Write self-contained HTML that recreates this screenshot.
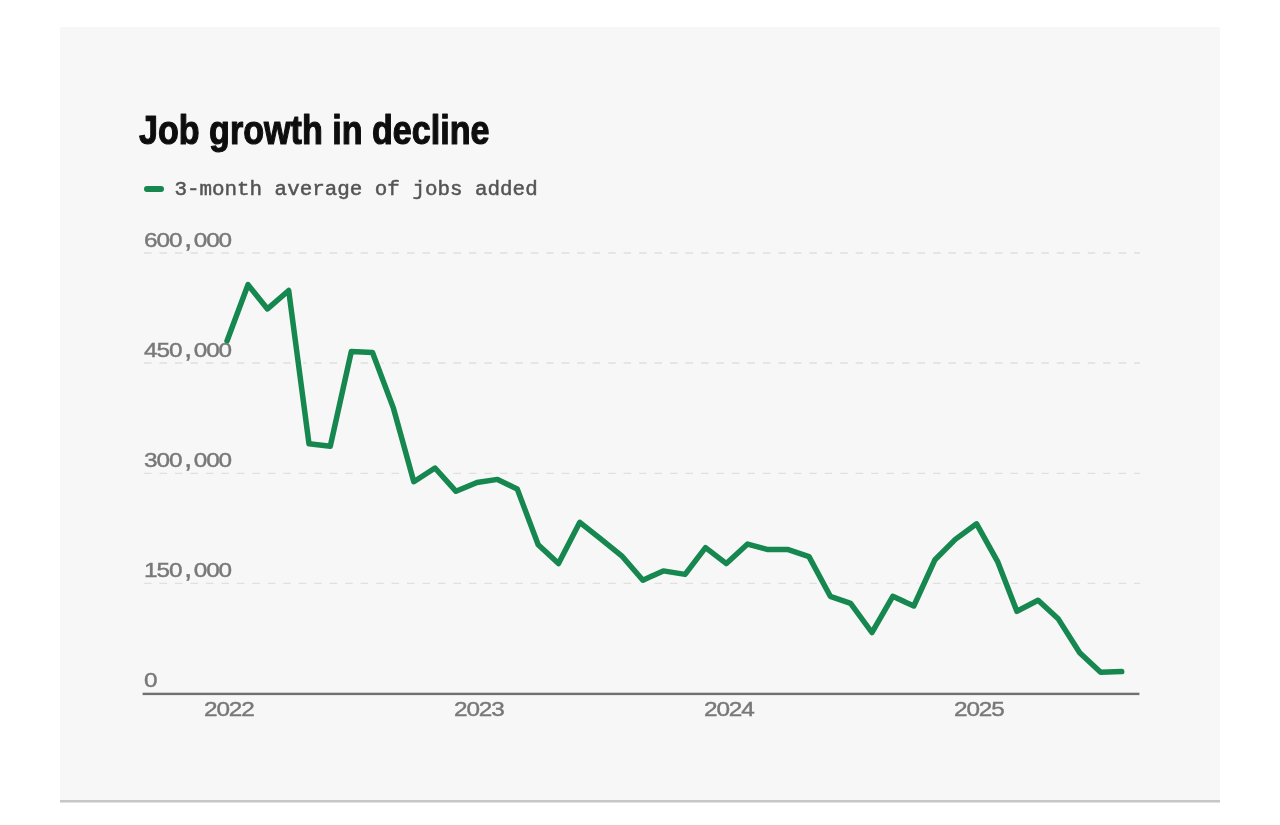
<!DOCTYPE html>
<html>
<head>
<meta charset="utf-8">
<title>Job growth in decline</title>
<style>
html, body { margin: 0; padding: 0; background: #ffffff; }
body { width: 1280px; height: 825px; overflow: hidden; font-family: "Liberation Sans", sans-serif; }
svg { display: block; }
svg text { font-family: "Liberation Sans", sans-serif; }
svg text.mono { font-family: "Liberation Mono", monospace; }
</style>
</head>
<body>
<svg width="1280" height="825" viewBox="0 0 1280 825">
<defs><filter id="soft" x="0" y="0" width="1280" height="825" filterUnits="userSpaceOnUse"><feGaussianBlur stdDeviation="0.55"/></filter></defs>
<rect x="0" y="0" width="1280" height="825" fill="#ffffff"/>
<rect x="60" y="27" width="1160" height="773.5" fill="#f7f7f7"/>
<rect x="60" y="800" width="1160" height="2.5" fill="#c6c6c6"/>
<g filter="url(#soft)">
<!-- title -->
<text transform="translate(139 143.7) scale(0.832 1)" font-size="41" font-weight="bold" fill="#111111" stroke="#111111" stroke-width="1.2" stroke-linejoin="round">Job growth in decline</text>
<!-- legend -->
<rect x="144" y="186" width="20" height="6" rx="3" ry="3" fill="#168750"/>
<text class="mono" x="174.4" y="194.8" font-size="20.88" fill="#545454" stroke="#545454" stroke-width="0.5">3-month average of jobs added</text>
<!-- grid -->
<line x1="144" x2="1140" y1="253" y2="253" stroke="#e0e0e0" stroke-width="1.3" stroke-dasharray="7.6 7.87"/>
<line x1="144" x2="1140" y1="363" y2="363" stroke="#e0e0e0" stroke-width="1.3" stroke-dasharray="7.6 7.87"/>
<line x1="144" x2="1140" y1="473.3" y2="473.3" stroke="#e0e0e0" stroke-width="1.3" stroke-dasharray="7.6 7.87"/>
<line x1="144" x2="1140" y1="583.4" y2="583.4" stroke="#e0e0e0" stroke-width="1.3" stroke-dasharray="7.6 7.87"/>
<!-- series -->
<path d="M227.0 341.0 L248.0 284.7 L267.5 308.9 L288.7 290.5 L309.0 443.8 L330.3 446.2 L351.3 351.6 L372.5 352.5 L393.5 408.4 L413.8 481.7 L435.0 468.0 L456.0 491.3 L477.0 482.5 L497.5 479.4 L517.2 488.9 L538.2 544.7 L558.5 563.6 L579.8 522.3 L600.7 538.9 L621.7 555.8 L642.9 580.2 L663.3 570.9 L685.1 574.4 L705.5 547.6 L726.4 563.6 L747.6 544.1 L768.0 549.6 L788.2 549.6 L809.0 556.6 L830.3 596.3 L850.6 603.4 L871.9 632.5 L892.8 596.3 L913.8 606.0 L935.0 559.7 L955.3 539.4 L976.6 523.8 L997.5 561.3 L1016.9 611.3 L1038.1 600.3 L1058.4 619.1 L1079.7 652.8 L1100.6 672.2 L1121.7 671.6" fill="none" stroke="#f7f7f7" stroke-width="9.5" stroke-linejoin="round" stroke-linecap="round"/>
<path d="M227.0 341.0 L248.0 284.7 L267.5 308.9 L288.7 290.5 L309.0 443.8 L330.3 446.2 L351.3 351.6 L372.5 352.5 L393.5 408.4 L413.8 481.7 L435.0 468.0 L456.0 491.3 L477.0 482.5 L497.5 479.4 L517.2 488.9 L538.2 544.7 L558.5 563.6 L579.8 522.3 L600.7 538.9 L621.7 555.8 L642.9 580.2 L663.3 570.9 L685.1 574.4 L705.5 547.6 L726.4 563.6 L747.6 544.1 L768.0 549.6 L788.2 549.6 L809.0 556.6 L830.3 596.3 L850.6 603.4 L871.9 632.5 L892.8 596.3 L913.8 606.0 L935.0 559.7 L955.3 539.4 L976.6 523.8 L997.5 561.3 L1016.9 611.3 L1038.1 600.3 L1058.4 619.1 L1079.7 652.8 L1100.6 672.2 L1121.7 671.6" fill="none" stroke="#168750" stroke-width="5.5" stroke-linejoin="round" stroke-linecap="round"/>
<!-- y labels -->
<text transform="translate(150.81 246.5) scale(1.23 1)" text-anchor="middle" font-size="19.8" fill="#787878" stroke="#787878" stroke-width="0.4">6</text>
<text transform="translate(163.23 246.5) scale(1.23 1)" text-anchor="middle" font-size="19.8" fill="#787878" stroke="#787878" stroke-width="0.4">0</text>
<text transform="translate(175.65 246.5) scale(1.23 1)" text-anchor="middle" font-size="19.8" fill="#787878" stroke="#787878" stroke-width="0.4">0</text>
<text transform="translate(188.07 247.3) scale(1.4144999999999999 1.3)" text-anchor="middle" font-size="19.8" fill="#787878" stroke="#787878" stroke-width="0.4">,</text>
<text transform="translate(200.49 246.5) scale(1.23 1)" text-anchor="middle" font-size="19.8" fill="#787878" stroke="#787878" stroke-width="0.4">0</text>
<text transform="translate(212.91 246.5) scale(1.23 1)" text-anchor="middle" font-size="19.8" fill="#787878" stroke="#787878" stroke-width="0.4">0</text>
<text transform="translate(225.33 246.5) scale(1.23 1)" text-anchor="middle" font-size="19.8" fill="#787878" stroke="#787878" stroke-width="0.4">0</text>
<text transform="translate(150.81 356.5) scale(1.23 1)" text-anchor="middle" font-size="19.8" fill="#787878" stroke="#787878" stroke-width="0.4">4</text>
<text transform="translate(163.23 356.5) scale(1.23 1)" text-anchor="middle" font-size="19.8" fill="#787878" stroke="#787878" stroke-width="0.4">5</text>
<text transform="translate(175.65 356.5) scale(1.23 1)" text-anchor="middle" font-size="19.8" fill="#787878" stroke="#787878" stroke-width="0.4">0</text>
<text transform="translate(188.07 357.3) scale(1.4144999999999999 1.3)" text-anchor="middle" font-size="19.8" fill="#787878" stroke="#787878" stroke-width="0.4">,</text>
<text transform="translate(200.49 356.5) scale(1.23 1)" text-anchor="middle" font-size="19.8" fill="#787878" stroke="#787878" stroke-width="0.4">0</text>
<text transform="translate(212.91 356.5) scale(1.23 1)" text-anchor="middle" font-size="19.8" fill="#787878" stroke="#787878" stroke-width="0.4">0</text>
<text transform="translate(225.33 356.5) scale(1.23 1)" text-anchor="middle" font-size="19.8" fill="#787878" stroke="#787878" stroke-width="0.4">0</text>
<text transform="translate(150.81 466.5) scale(1.23 1)" text-anchor="middle" font-size="19.8" fill="#787878" stroke="#787878" stroke-width="0.4">3</text>
<text transform="translate(163.23 466.5) scale(1.23 1)" text-anchor="middle" font-size="19.8" fill="#787878" stroke="#787878" stroke-width="0.4">0</text>
<text transform="translate(175.65 466.5) scale(1.23 1)" text-anchor="middle" font-size="19.8" fill="#787878" stroke="#787878" stroke-width="0.4">0</text>
<text transform="translate(188.07 467.3) scale(1.4144999999999999 1.3)" text-anchor="middle" font-size="19.8" fill="#787878" stroke="#787878" stroke-width="0.4">,</text>
<text transform="translate(200.49 466.5) scale(1.23 1)" text-anchor="middle" font-size="19.8" fill="#787878" stroke="#787878" stroke-width="0.4">0</text>
<text transform="translate(212.91 466.5) scale(1.23 1)" text-anchor="middle" font-size="19.8" fill="#787878" stroke="#787878" stroke-width="0.4">0</text>
<text transform="translate(225.33 466.5) scale(1.23 1)" text-anchor="middle" font-size="19.8" fill="#787878" stroke="#787878" stroke-width="0.4">0</text>
<text transform="translate(150.81 576.5) scale(1.23 1)" text-anchor="middle" font-size="19.8" fill="#787878" stroke="#787878" stroke-width="0.4">1</text>
<text transform="translate(163.23 576.5) scale(1.23 1)" text-anchor="middle" font-size="19.8" fill="#787878" stroke="#787878" stroke-width="0.4">5</text>
<text transform="translate(175.65 576.5) scale(1.23 1)" text-anchor="middle" font-size="19.8" fill="#787878" stroke="#787878" stroke-width="0.4">0</text>
<text transform="translate(188.07 577.3) scale(1.4144999999999999 1.3)" text-anchor="middle" font-size="19.8" fill="#787878" stroke="#787878" stroke-width="0.4">,</text>
<text transform="translate(200.49 576.5) scale(1.23 1)" text-anchor="middle" font-size="19.8" fill="#787878" stroke="#787878" stroke-width="0.4">0</text>
<text transform="translate(212.91 576.5) scale(1.23 1)" text-anchor="middle" font-size="19.8" fill="#787878" stroke="#787878" stroke-width="0.4">0</text>
<text transform="translate(225.33 576.5) scale(1.23 1)" text-anchor="middle" font-size="19.8" fill="#787878" stroke="#787878" stroke-width="0.4">0</text>
<text transform="translate(150.81 686.8) scale(1.23 1)" text-anchor="middle" font-size="19.8" fill="#787878" stroke="#787878" stroke-width="0.4">0</text>
<!-- axis -->
<rect x="142.6" y="692.7" width="996.8" height="2.4" fill="#707070"/>
<!-- x labels -->
<text transform="translate(210.77 716.3) scale(1.23 1)" text-anchor="middle" font-size="19.8" fill="#787878" stroke="#787878" stroke-width="0.4">2</text>
<text transform="translate(223.19 716.3) scale(1.23 1)" text-anchor="middle" font-size="19.8" fill="#787878" stroke="#787878" stroke-width="0.4">0</text>
<text transform="translate(235.61 716.3) scale(1.23 1)" text-anchor="middle" font-size="19.8" fill="#787878" stroke="#787878" stroke-width="0.4">2</text>
<text transform="translate(248.03 716.3) scale(1.23 1)" text-anchor="middle" font-size="19.8" fill="#787878" stroke="#787878" stroke-width="0.4">2</text>
<text transform="translate(460.77 716.3) scale(1.23 1)" text-anchor="middle" font-size="19.8" fill="#787878" stroke="#787878" stroke-width="0.4">2</text>
<text transform="translate(473.19 716.3) scale(1.23 1)" text-anchor="middle" font-size="19.8" fill="#787878" stroke="#787878" stroke-width="0.4">0</text>
<text transform="translate(485.61 716.3) scale(1.23 1)" text-anchor="middle" font-size="19.8" fill="#787878" stroke="#787878" stroke-width="0.4">2</text>
<text transform="translate(498.03 716.3) scale(1.23 1)" text-anchor="middle" font-size="19.8" fill="#787878" stroke="#787878" stroke-width="0.4">3</text>
<text transform="translate(710.77 716.3) scale(1.23 1)" text-anchor="middle" font-size="19.8" fill="#787878" stroke="#787878" stroke-width="0.4">2</text>
<text transform="translate(723.19 716.3) scale(1.23 1)" text-anchor="middle" font-size="19.8" fill="#787878" stroke="#787878" stroke-width="0.4">0</text>
<text transform="translate(735.61 716.3) scale(1.23 1)" text-anchor="middle" font-size="19.8" fill="#787878" stroke="#787878" stroke-width="0.4">2</text>
<text transform="translate(748.03 716.3) scale(1.23 1)" text-anchor="middle" font-size="19.8" fill="#787878" stroke="#787878" stroke-width="0.4">4</text>
<text transform="translate(960.77 716.3) scale(1.23 1)" text-anchor="middle" font-size="19.8" fill="#787878" stroke="#787878" stroke-width="0.4">2</text>
<text transform="translate(973.19 716.3) scale(1.23 1)" text-anchor="middle" font-size="19.8" fill="#787878" stroke="#787878" stroke-width="0.4">0</text>
<text transform="translate(985.61 716.3) scale(1.23 1)" text-anchor="middle" font-size="19.8" fill="#787878" stroke="#787878" stroke-width="0.4">2</text>
<text transform="translate(998.03 716.3) scale(1.23 1)" text-anchor="middle" font-size="19.8" fill="#787878" stroke="#787878" stroke-width="0.4">5</text>
</g>
</svg>
</body>
</html>
